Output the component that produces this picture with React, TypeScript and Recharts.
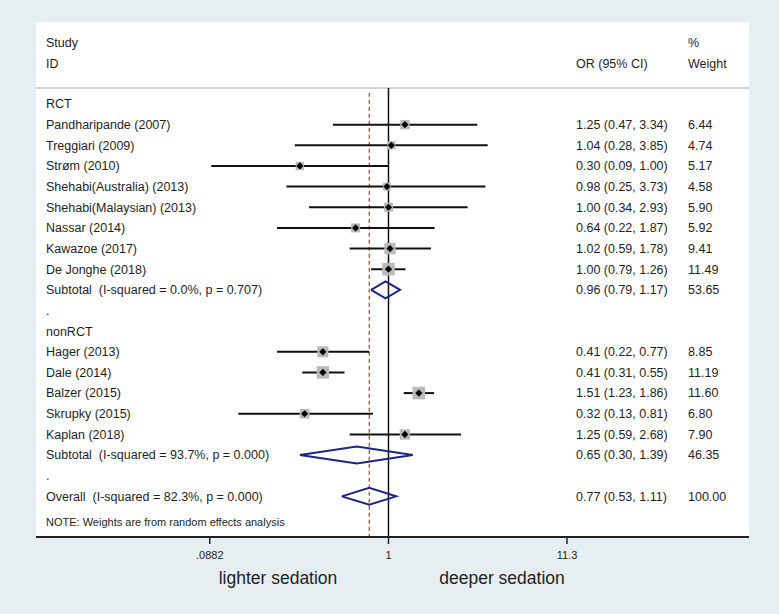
import {
  ErrorBar,
  ReferenceLine,
  Scatter,
  ScatterChart,
  XAxis,
  YAxis,
} from "recharts";

const rctStudies = [
  "Pandharipande (2007)",
  "Treggiari (2009)",
  "Strøm (2010)",
  "Shehabi(Australia) (2013)",
  "Shehabi(Malaysian) (2013)",
  "Nassar (2014)",
  "Kawazoe (2017)",
  "De Jonghe (2018)",
];
const rctOR = [1.25, 1.04, 0.3, 0.98, 1.0, 0.64, 1.02, 1.0];
const rctLow = [0.47, 0.28, 0.09, 0.25, 0.34, 0.22, 0.59, 0.79];
const rctHigh = [3.34, 3.85, 1.0, 3.73, 2.93, 1.87, 1.78, 1.26];
const rctWeight = [6.44, 4.74, 5.17, 4.58, 5.9, 5.92, 9.41, 11.49];

const nonRctStudies = [
  "Hager (2013)",
  "Dale (2014)",
  "Balzer (2015)",
  "Skrupky (2015)",
  "Kaplan (2018)",
];
const nonRctOR = [0.41, 0.41, 1.51, 0.32, 1.25];
const nonRctLow = [0.22, 0.31, 1.23, 0.13, 0.59];
const nonRctHigh = [0.77, 0.55, 1.86, 0.81, 2.68];
const nonRctWeight = [8.85, 11.19, 11.6, 6.8, 7.9];

// [OR, low, high, weight]
const rctSubtotal = [0.96, 0.79, 1.17, 53.65];
const nonRctSubtotal = [0.65, 0.3, 1.39, 46.35];
const overall = [0.77, 0.53, 1.11, 100.0];

const rctSubtotalLabel = "Subtotal  (I-squared = 0.0%, p = 0.707)";
const nonRctSubtotalLabel = "Subtotal  (I-squared = 93.7%, p = 0.000)";
const overallLabel = "Overall  (I-squared = 82.3%, p = 0.000)";
const noteLabel = "NOTE: Weights are from random effects analysis";

const axisTickValues = [0.0882, 1, 11.3];
const axisTickLabels = [".0882", "1", "11.3"];

const FONT = '"Liberation Sans", Arial, sans-serif';
const TEXT = "#1e1e1e";

// plot geometry (ln(OR) on x, row index on y)
const LN_LO = -4.789;
const LN_HI = 4.898;
const ROW_MIN = -3.971;
const ROW_MAX = 20.969;
const HEADER_ROW = -0.775;
const DIAMOND_HALF = 0.41;

const fmt = (or: number, lo: number, hi: number) =>
  `${or.toFixed(2)} (${lo.toFixed(2)}, ${hi.toFixed(2)})`;

const toPoints = (
  or: number[],
  lo: number[],
  hi: number[],
  w: number[],
  startRow: number
) =>
  or.map((v, i) => ({
    x: Math.log(v),
    row: startRow + i,
    err: [Math.log(v) - Math.log(lo[i]), Math.log(hi[i]) - Math.log(v)],
    weight: w[i],
  }));

const studyPoints = [
  ...toPoints(rctOR, rctLow, rctHigh, rctWeight, 1),
  ...toPoints(nonRctOR, nonRctLow, nonRctHigh, nonRctWeight, 12),
];

const diamond = (s: number[], row: number) => [
  { x: Math.log(s[1]), row },
  { x: Math.log(s[0]), row: row - DIAMOND_HALF },
  { x: Math.log(s[2]), row },
  { x: Math.log(s[0]), row: row + DIAMOND_HALF },
  { x: Math.log(s[1]), row },
];

interface TextRow {
  row: number;
  label: string;
  est?: string;
  weight?: string;
  size?: number;
}

const textRows: TextRow[] = [
  { row: -2.954, label: "Study", weight: "%" },
  { row: -1.937, label: "ID", est: "OR (95% CI)", weight: "Weight" },
  { row: 0, label: "RCT" },
  ...rctStudies.map((s, i) => ({
    row: 1 + i,
    label: s,
    est: fmt(rctOR[i], rctLow[i], rctHigh[i]),
    weight: rctWeight[i].toFixed(2),
  })),
  {
    row: 9,
    label: rctSubtotalLabel,
    est: fmt(rctSubtotal[0], rctSubtotal[1], rctSubtotal[2]),
    weight: rctSubtotal[3].toFixed(2),
  },
  { row: 10, label: "." },
  { row: 11, label: "nonRCT" },
  ...nonRctStudies.map((s, i) => ({
    row: 12 + i,
    label: s,
    est: fmt(nonRctOR[i], nonRctLow[i], nonRctHigh[i]),
    weight: nonRctWeight[i].toFixed(2),
  })),
  {
    row: 17,
    label: nonRctSubtotalLabel,
    est: fmt(nonRctSubtotal[0], nonRctSubtotal[1], nonRctSubtotal[2]),
    weight: nonRctSubtotal[3].toFixed(2),
  },
  { row: 18, label: "." },
  {
    row: 19,
    label: overallLabel,
    est: fmt(overall[0], overall[1], overall[2]),
    weight: overall[3].toFixed(2),
  },
  { row: 20.25, label: noteLabel, size: 11 },
].map((r) => ({ ...r, x: 0 }));

const TextShape = (props: any) => {
  const { cy, payload } = props;
  const fs = payload.size ?? 12.5;
  return (
    <g fontFamily={FONT} fill={TEXT} fontSize={fs}>
      <text x={46} y={cy} dy="0.35em" style={{ whiteSpace: "pre" }}>
        {payload.label}
      </text>
      {payload.est && (
        <text x={576} y={cy} dy="0.35em">
          {payload.est}
        </text>
      )}
      {payload.weight && (
        <text x={688} y={cy} dy="0.35em">
          {payload.weight}
        </text>
      )}
    </g>
  );
};

const StudyMarker = (props: any) => {
  const { cx, cy, payload } = props;
  const s = 3.7 * Math.sqrt(payload.weight);
  const d = 3.6;
  return (
    <g>
      <rect x={cx - s / 2} y={cy - s / 2} width={s} height={s} fill="#b9b9b9" />
      <polygon
        points={`${cx - d},${cy} ${cx},${cy - d} ${cx + d},${cy} ${cx},${cy + d}`}
        fill="#000"
      />
    </g>
  );
};

const NoShape = () => <g />;

const footLabel = {
  position: "absolute" as const,
  top: 568,
  transform: "translateX(-50%)",
  fontSize: 17.5,
  lineHeight: "20px",
  color: TEXT,
  whiteSpace: "nowrap" as const,
};

export default function App() {
  return (
    <div
      style={{
        position: "absolute",
        left: 0,
        top: 0,
        width: 779,
        height: 614,
        background: "#e7eef1",
        fontFamily: FONT,
      }}
    >
      <div
        style={{
          position: "absolute",
          left: 36,
          top: 22,
          width: 713,
          height: 515,
          background: "#fff",
        }}
      />
      <div style={{ position: "absolute", left: 0, top: 0 }}>
        <ScatterChart
          width={779}
          height={614}
          margin={{ top: 22, right: 30, bottom: 47, left: 36 }}
        >
          <XAxis
            type="number"
            dataKey="x"
            domain={[LN_LO, LN_HI]}
            allowDataOverflow
            ticks={axisTickValues.map((v) => Math.log(v))}
            tickFormatter={(_v: number, i: number) => axisTickLabels[i]}
            height={30}
            axisLine={{ stroke: "#222", strokeWidth: 2 }}
            tickLine={{ stroke: "#222", strokeWidth: 1.5 }}
            tickSize={7}
            tickMargin={7}
            tick={{ fontSize: 11, fill: TEXT, fontFamily: FONT }}
          />
          <YAxis
            type="number"
            dataKey="row"
            domain={[ROW_MIN, ROW_MAX]}
            allowDataOverflow
            reversed
            hide
          />
          <ReferenceLine y={HEADER_ROW} stroke="#d2d2d2" strokeWidth={2} />
          <ReferenceLine
            segment={[
              { x: 0, y: HEADER_ROW },
              { x: 0, y: ROW_MAX },
            ]}
            stroke="#111"
            strokeWidth={1.5}
          />
          <ReferenceLine
            segment={[
              { x: Math.log(overall[0]), y: -0.55 },
              { x: Math.log(overall[0]), y: ROW_MAX },
            ]}
            stroke="#b23b36"
            strokeWidth={1.2}
            strokeDasharray="4 3"
          />
          <Scatter data={textRows} shape={TextShape} isAnimationActive={false} />
          <Scatter data={studyPoints} shape={StudyMarker} isAnimationActive={false}>
            <ErrorBar
              dataKey="err"
              direction="x"
              width={0}
              stroke="#111"
              strokeWidth={2}
            />
          </Scatter>
          <Scatter
            data={diamond(rctSubtotal, 9)}
            shape={NoShape}
            line={{ stroke: "#1b2585", strokeWidth: 2 }}
            lineType="joint"
            isAnimationActive={false}
          />
          <Scatter
            data={diamond(nonRctSubtotal, 17)}
            shape={NoShape}
            line={{ stroke: "#1b2585", strokeWidth: 2 }}
            lineType="joint"
            isAnimationActive={false}
          />
          <Scatter
            data={diamond(overall, 19)}
            shape={NoShape}
            line={{ stroke: "#1b2585", strokeWidth: 2 }}
            lineType="joint"
            isAnimationActive={false}
          />
        </ScatterChart>
      </div>
      <div style={{ ...footLabel, left: 278 }}>lighter sedation</div>
      <div style={{ ...footLabel, left: 502 }}>deeper sedation</div>
    </div>
  );
}
